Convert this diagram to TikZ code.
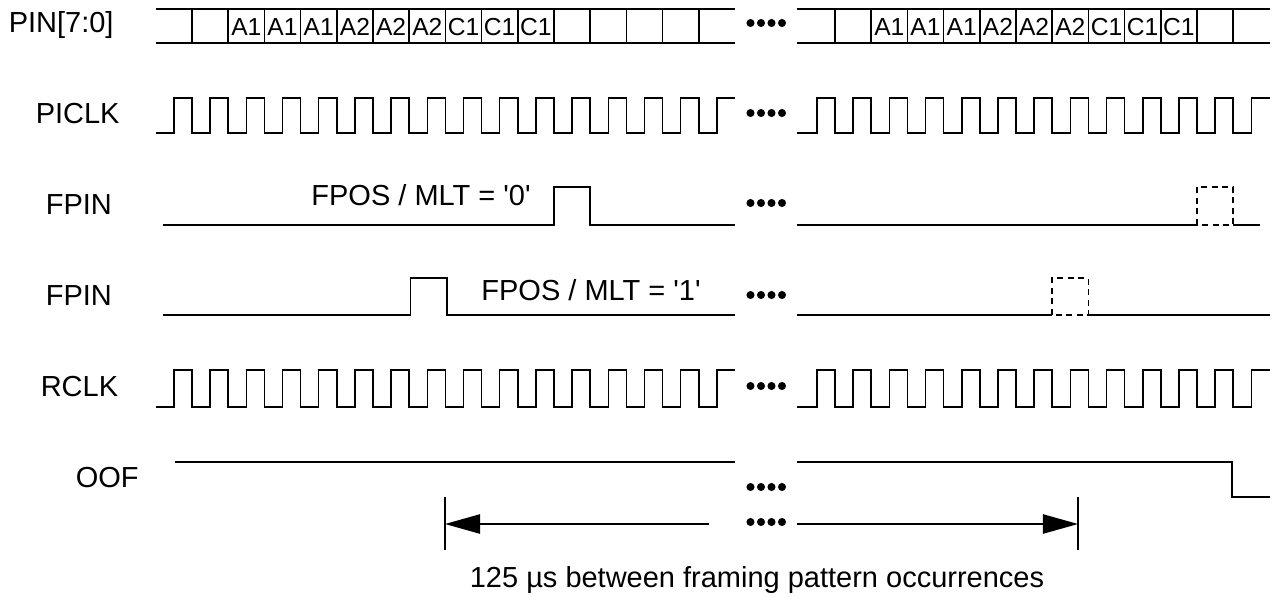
\documentclass[tikz,border=0pt]{standalone}
\usepackage{fontspec}
\setmainfont{Liberation Sans}
\usetikzlibrary{arrows.meta}
\newcommand{\fourdots}[1]{\foreach \k in {0,...,3} \fill ({750.5+\k*10.5},#1) circle (2.3pt);}
\begin{document}
\begin{tikzpicture}[x=0.02cm,y=-0.02cm,line width=0.9pt,
		lbl/.style={font=\fontsize{16.5}{19}\selectfont,anchor=base west,inner sep=0},
		txt/.style={font=\fontsize{16.5}{19}\selectfont,anchor=base,inner sep=0},
		cell/.style={font=\fontsize{14}{16}\selectfont,anchor=base,inner sep=0},
		frame/.style={dash pattern=on 3.4pt off 2.6pt},
		span/.style={-{Triangle[length=20pt,width=11pt]}}]
		\useasboundingbox (0,0) rectangle (1275,596);
		\node[lbl] (pin) at (8,32) {PIN[7:0]};
		\node[lbl] (piclk) at (35,123) {PICLK};
		\node[lbl] (fpin0) at (45,214) {FPIN};
		\node[lbl] (fpin1) at (45,305) {FPIN};
		\node[lbl] (rclk) at (40,396) {RCLK};
		\node[lbl] (oof) at (75,487) {OOF};
		\draw (156,9) -- (735,9);
		\draw (156,43) -- (735,43);
		\foreach \i in {0,...,14} \draw ({192+\i*36.2},9) -- ({192+\i*36.2},43);
		\foreach \t [count=\i] in {A1,A1,A1,A2,A2,A2,C1,C1,C1}
			\node[cell] (l\i) at ({192+\i*36.2+18.1},35) {\t};
		\draw (797,9) -- (1270,9);
		\draw (797,43) -- (1270,43);
		\foreach \i in {0,...,11} \draw ({835+\i*36.2},9) -- ({835+\i*36.2},43);
		\foreach \t [count=\i] in {A1,A1,A1,A2,A2,A2,C1,C1,C1}
			\node[cell] (r\i) at ({835+\i*36.2+18.1},35) {\t};
		\foreach \hi/\lo in {98/133,370/407} {
			\draw (156,\lo) \foreach \i in {0,...,14} {-- ({192+(\i-0.5)*36.2},\lo) -- ({192+(\i-0.5)*36.2},\hi) -- ({192+\i*36.2},\hi) -- ({192+\i*36.2},\lo)} -- ({192+14.5*36.2},\lo) -- ({192+14.5*36.2},\hi) -- (735,\hi);
			\draw (797,\lo) \foreach \i in {0,...,11} {-- ({835+(\i-0.5)*36.2},\lo) -- ({835+(\i-0.5)*36.2},\hi) -- ({835+\i*36.2},\hi) -- ({835+\i*36.2},\lo)} -- ({835+11.5*36.2},\lo) -- ({835+11.5*36.2},\hi) -- (1270,\hi);
		}
		\draw (163,225) -- (554,225) -- (554,187) -- (590.2,187) -- (590.2,225) -- (735,225);
		\node[txt] (mlt0) at (421,205) {FPOS / MLT = \textquotesingle 0\textquotesingle};
		\draw (797,225) -- (1197,225);
		\draw[frame] (1197,225) -- (1197,187) -- (1233.2,187) -- (1233.2,225) -- cycle;
		\draw (1233.2,225) -- (1260,225);
		\draw (163,315) -- (410.5,315) -- (410.5,278) -- (447,278) -- (447,315) -- (735,315);
		\node[txt] (mlt1) at (591,300) {FPOS / MLT = \textquotesingle 1\textquotesingle};
		\draw (797,315) -- (1052.2,315);
		\draw[frame] (1052.2,315) -- (1052.2,278) -- (1088.4,278) -- (1088.4,315) -- cycle;
		\draw (1088.4,315) -- (1270,315);
		\draw (175,462) -- (735,462);
		\draw (797,462) -- (1232,462) -- (1232,497) -- (1270,497);
		\foreach \y in {23,113,203,295,386,487,522} \fourdots{\y}
		\coordinate (tl) at (445,497);
		\coordinate (bl) at (445,550);
		\coordinate (tr) at (1078,497);
		\coordinate (br) at (1078,550);
		\coordinate (al) at (445,524);
		\coordinate (ml) at (709,524);
		\coordinate (mr) at (797,524);
		\coordinate (ar) at (1078,524);
		\draw (tl) -- (bl);
		\draw (tr) -- (br);
		\draw[span] (ml) -- (al);
		\draw[span] (mr) -- (ar);
		\node[txt] (note) at (757,587) {125 µs between framing pattern occurrences};
	\end{tikzpicture}
\end{document}
